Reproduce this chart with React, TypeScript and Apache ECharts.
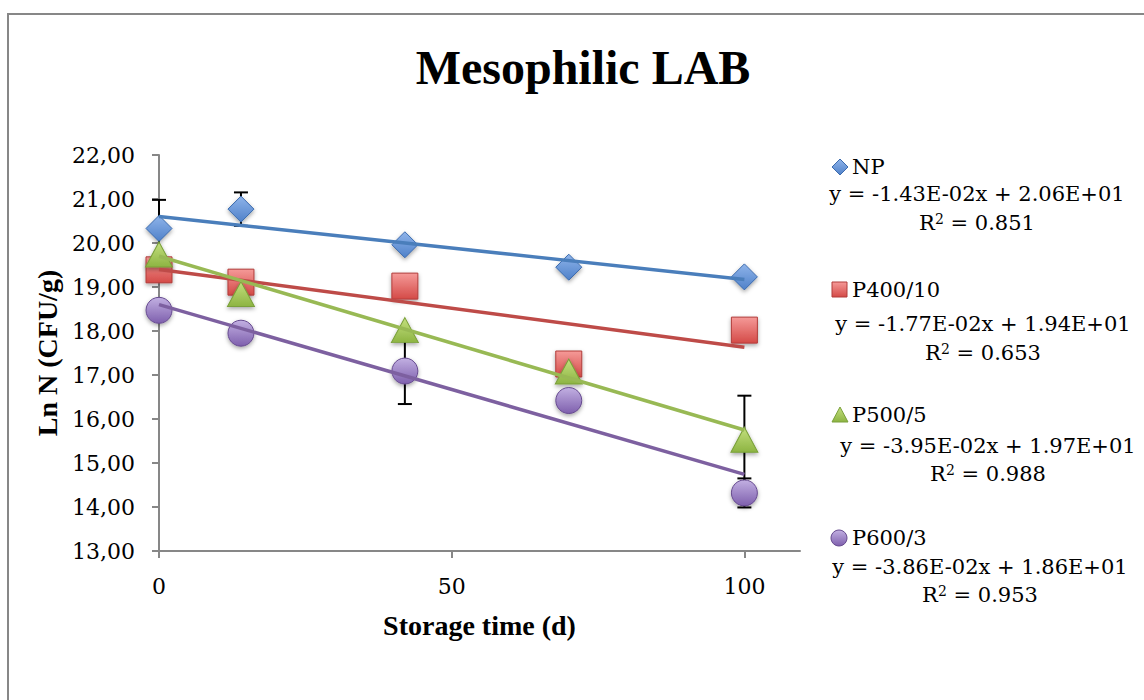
import React, { useEffect, useRef } from "react";
import * as echarts from "echarts";

// ---- data ----
const days = [0, 14, 42, 70, 100];
const npValues = [20.33, 20.77, 19.96, 19.45, 19.23];
const p400Values = [19.39, 19.11, 19.02, 17.25, 18.02];
const p500Values = [19.74, 18.84, 18.02, 17.08, 15.53];
const p600Values = [18.47, 17.95, 17.09, 16.42, 14.32];

const npErrors = [0.65, 0.38, 0, 0, 0];
const p400Errors = [0, 0, 0, 0, 0];
const p500Errors = [0, 0, 0, 0, 1.0];
const p600Errors = [0, 0, 0.75, 0, 0.33];

const seriesNames = ["NP", "P400/10", "P500/5", "P600/3"];
const trendSlopes = [-1.43e-2, -1.77e-2, -3.95e-2, -3.86e-2];
const trendIntercepts = [2.06e1, 1.94e1, 1.97e1, 1.86e1];
const equationLabels = [
  "y = -1.43E-02x + 2.06E+01",
  "y = -1.77E-02x + 1.94E+01",
  "y = -3.95E-02x + 1.97E+01",
  "y = -3.86E-02x + 1.86E+01",
];
const r2Values = ["0.851", "0.653", "0.988", "0.953"];
const xTickValues = [0, 50, 100];

const TITLE = "Mesophilic LAB";
const X_NAME = "Storage time (d)";
const Y_NAME = "Ln N (CFU/g)";

// ---- styles ----
const SERIF = "'DejaVu Serif', serif";
const SERIF_B = "'Liberation Serif', 'Times New Roman', serif";

const palette = [
  { top: "#8fb4ea", bottom: "#4f81c9", border: "#3b6aad", line: "#4a7ebb" },
  { top: "#f59a98", bottom: "#d44a47", border: "#b13c3a", line: "#be4b48" },
  { top: "#c4e07f", bottom: "#8db442", border: "#7aa03a", line: "#98b954" },
  { top: "#c2b0e2", bottom: "#7e5fad", border: "#664a8f", line: "#7d60a0" },
];
const symbols = ["diamond", "rect", "triangle", "circle"];
const symbolSizes: any[] = [[26, 26], [26, 26], [27, 25], [26, 26]];

function grad(i: number) {
  return new echarts.graphic.LinearGradient(0, 0, 0, 1, [
    { offset: 0, color: palette[i].top },
    { offset: 1, color: palette[i].bottom },
  ]);
}

const allValues = [npValues, p400Values, p500Values, p600Values];
const allErrors = [npErrors, p400Errors, p500Errors, p600Errors];

export default function App() {
  const ref = useRef<HTMLDivElement>(null);
  useEffect(() => {
    if (!ref.current) return;
    const chart = echarts.init(ref.current, null, { renderer: "svg" });

    const series: any[] = [];
    allValues.forEach((vals, i) => {
      // error bars (behind markers)
      series.push({
        type: "custom",
        name: seriesNames[i] + " err",
        z: 1,
        encode: { x: 0, y: 1 },
        data: days
          .map((d, k) => [d, vals[k], allErrors[i][k]])
          .filter((r) => r[2] > 0),
        renderItem: (params: any, api: any) => {
          const x = api.value(0);
          const y = api.value(1);
          const e = api.value(2);
          const top = api.coord([x, y + e]);
          const bot = api.coord([x, y - e]);
          const cw = 7;
          const st = { stroke: "#000", lineWidth: 2 };
          return {
            type: "group",
            children: [
              { type: "line", shape: { x1: top[0], y1: top[1], x2: bot[0], y2: bot[1] }, style: st },
              { type: "line", shape: { x1: top[0] - cw, y1: top[1], x2: top[0] + cw, y2: top[1] }, style: st },
              { type: "line", shape: { x1: bot[0] - cw, y1: bot[1], x2: bot[0] + cw, y2: bot[1] }, style: st },
            ],
          };
        },
      });
      // markers
      series.push({
        type: "scatter",
        name: seriesNames[i],
        z: 2,
        symbol: symbols[i],
        symbolSize: symbolSizes[i],
        data: days.map((d, k) => [d, vals[k]]),
        itemStyle: {
          color: grad(i),
          borderColor: palette[i].border,
          borderWidth: 1,
          shadowBlur: 4,
          shadowOffsetY: 2,
          shadowColor: "rgba(0,0,0,0.35)",
          opacity: 1,
        },
      });
      // trend line (on top)
      series.push({
        type: "line",
        name: seriesNames[i] + " trend",
        z: 3,
        symbol: "none",
        data: [
          [days[0], trendIntercepts[i] + trendSlopes[i] * days[0]],
          [days[days.length - 1], trendIntercepts[i] + trendSlopes[i] * days[days.length - 1]],
        ],
        lineStyle: { color: palette[i].line, width: 3.5 },
      });
    });

    // legend graphics
    const legendY = [167, 290, 415, 538];
    const eqY = [194, 324, 446, 567];
    const r2Y = [223, 353, 474, 595];
    const eqX = [977, 983, 988, 980];
    const markerX = 840;
    const graphics: any[] = [
      {
        type: "rect",
        shape: { x: 8, y: 14, width: 1300, height: 900 },
        style: { fill: "none", stroke: "#878787", lineWidth: 2 },
        silent: true,
      },
      {
        type: "text",
        x: 583,
        y: 67,
        style: {
          text: TITLE,
          font: `bold 48px ${SERIF_B}`,
          fill: "#000",
          align: "center",
          verticalAlign: "middle",
        },
      },
    ];
    seriesNames.forEach((name, i) => {
      const cy = legendY[i];
      const common = {
        fill: grad(i),
        stroke: palette[i].border,
        lineWidth: 1,
      };
      let mk: any;
      if (i === 0) {
        mk = { type: "polygon", shape: { points: [[markerX, cy - 8], [markerX + 8, cy], [markerX, cy + 8], [markerX - 8, cy]] }, style: common };
      } else if (i === 1) {
        mk = { type: "rect", shape: { x: markerX - 8, y: cy - 8, width: 15, height: 15 }, style: common };
      } else if (i === 2) {
        mk = { type: "polygon", shape: { points: [[markerX, cy - 8], [markerX + 8, cy + 7], [markerX - 8, cy + 7]] }, style: common };
      } else {
        mk = { type: "circle", shape: { cx: markerX - 1, cy, r: 8 }, style: common };
      }
      graphics.push(mk);
      graphics.push({
        type: "text",
        x: 852,
        y: cy,
        style: { text: name, font: `21px ${SERIF}`, fill: "#000", align: "left", verticalAlign: "middle" },
      });
      graphics.push({
        type: "text",
        x: eqX[i],
        y: eqY[i],
        style: { text: equationLabels[i], font: `21px ${SERIF}`, fill: "#000", align: "center", verticalAlign: "middle" },
      });
      graphics.push({
        type: "text",
        x: eqX[i],
        y: r2Y[i],
        style: {
          text: "R{sup|2} = " + r2Values[i],
          font: `21px ${SERIF}`,
          fill: "#000",
          align: "center",
          verticalAlign: "middle",
          rich: {
            sup: { fontFamily: SERIF, fontSize: 14, fill: "#000", padding: [0, 0, 9, 0] },
          },
        },
      });
    });

    chart.setOption({
      animation: false,
      backgroundColor: "#fff",
      grid: { left: 159, right: 344, top: 155, bottom: 149, containLabel: false },
      xAxis: {
        type: "value",
        min: 0,
        max: 109.5,
        interval: 50,
        name: X_NAME,
        nameLocation: "middle",
        nameGap: 60,
        nameTextStyle: { fontFamily: SERIF_B, fontWeight: "bold", fontSize: 28, color: "#000" },
        axisLine: { show: true, onZero: false, lineStyle: { color: "#878787", width: 2 } },
        axisTick: { show: true, inside: false, length: 7, customValues: xTickValues, lineStyle: { color: "#878787", width: 2 } },
        axisLabel: { customValues: xTickValues, fontFamily: SERIF, fontSize: 22, color: "#000", margin: 24 },
        splitLine: { show: false },
      },
      yAxis: {
        type: "value",
        min: 13,
        max: 22,
        interval: 1,
        name: Y_NAME,
        nameLocation: "middle",
        nameGap: 92,
        nameRotate: 90,
        nameTextStyle: { fontFamily: SERIF_B, fontWeight: "bold", fontSize: 28, color: "#000" },
        axisLine: { show: true, lineStyle: { color: "#878787", width: 2 } },
        axisTick: { show: true, inside: false, length: 7, lineStyle: { color: "#878787", width: 2 } },
        axisLabel: {
          fontFamily: SERIF,
          fontSize: 22,
          color: "#000",
          margin: 24,
          formatter: (v: number) => v.toFixed(2).replace(".", ","),
        },
        splitLine: { show: false },
      },
      graphic: graphics,
      series,
    });

    return () => chart.dispose();
  }, []);

  return (
    <div
      ref={ref}
      style={{ position: "fixed", left: 0, top: 0, width: 1144, height: 700, background: "#fff" }}
    />
  );
}
